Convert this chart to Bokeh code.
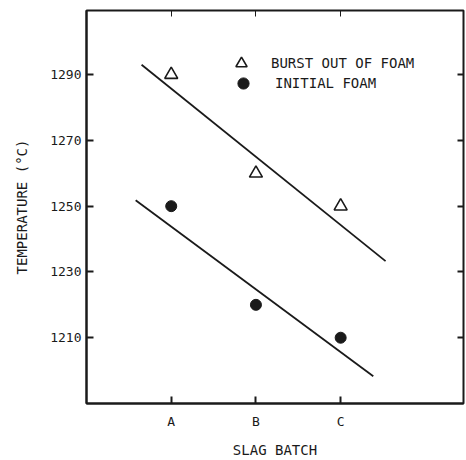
from bokeh.plotting import figure
from bokeh.models import (ColumnDataSource, Range1d, LinearAxis, FixedTicker,
                          Legend, LegendItem)
from bokeh.embed import file_html
from bokeh.resources import INLINE

# ---- data ----
batches = ["A", "B", "C"]
batch_pos = [1, 2, 3]
burst_temp = [1290, 1260, 1250]
initial_temp = [1250, 1220, 1210]
burst_line_x = [0.65, 3.53]
burst_line_y = [1293, 1233.3]
initial_line_x = [0.58, 3.385]
initial_line_y = [1251.8, 1198.3]
y_ticks = [1210, 1230, 1250, 1270, 1290]

FONT = "DejaVu Sans Mono"
INK = "#1a1a1a"

p = figure(width=466, height=460, output_backend="svg", toolbar_location=None,
           x_range=Range1d(0.0, 4.45), y_range=Range1d(1190, 1309.5),
           min_border_left=86, min_border_right=3, min_border_top=10,
           min_border_bottom=52)
p.grid.visible = False
p.outline_line_color = INK
p.outline_line_width = 2
p.background_fill_color = "white"
p.border_fill_color = "white"

# axes
p.xaxis.ticker = FixedTicker(ticks=batch_pos)
p.xaxis.major_label_overrides = {pos: lab for pos, lab in zip(batch_pos, batches)}
p.yaxis.ticker = FixedTicker(ticks=y_ticks)
for ax in (p.xaxis[0], p.yaxis[0]):
    ax.axis_line_color = INK
    ax.axis_line_width = 2
    ax.major_tick_line_color = INK
    ax.major_tick_line_width = 2
    ax.major_tick_in = 7
    ax.major_tick_out = 0
    ax.minor_tick_line_color = None
    ax.major_label_text_font = FONT
    ax.major_label_text_font_size = "13px"
    ax.major_label_text_color = INK
    ax.axis_label_text_font = FONT
    ax.axis_label_text_font_size = "14px"
    ax.axis_label_text_font_style = "normal"
    ax.axis_label_text_color = INK

p.xaxis.axis_label = "SLAG BATCH"
p.yaxis.axis_label = "TEMPERATURE (°C)"
p.xaxis.major_label_standoff = 10
p.xaxis.axis_label_standoff = 10
p.yaxis.major_label_standoff = 5
p.yaxis.axis_label_standoff = 17

# top / right tick-only axes (no labels)
top = LinearAxis(ticker=FixedTicker(ticks=batch_pos),
                 major_label_overrides={t: "" for t in batch_pos},
                 major_tick_in=6, major_tick_out=0, minor_tick_line_color=None,
                 axis_line_color=INK, major_tick_line_color=INK, major_tick_line_width=1)
right = LinearAxis(ticker=FixedTicker(ticks=y_ticks),
                   major_label_overrides={t: "" for t in y_ticks},
                   major_tick_in=6, major_tick_out=0, minor_tick_line_color=None,
                   axis_line_color=INK, major_tick_line_color=INK, major_tick_line_width=2)
p.add_layout(top, "above")
p.add_layout(right, "right")
p.min_border_top = 10
p.min_border_right = 3

# fit lines
p.line(burst_line_x, burst_line_y, line_color=INK, line_width=1.8)
p.line(initial_line_x, initial_line_y, line_color=INK, line_width=1.8)

src_b = ColumnDataSource(dict(x=batch_pos, y=burst_temp))
src_i = ColumnDataSource(dict(x=batch_pos, y=initial_temp))
r_b = p.scatter("x", "y", source=src_b, marker="triangle", size=13,
                fill_color="white", line_color=INK, line_width=1.6)
r_i = p.scatter("x", "y", source=src_i, marker="circle", size=11,
                fill_color=INK, line_color=INK)

common = dict(padding=0, margin=0, spacing=0, glyph_width=28, glyph_height=28,
              label_height=28, border_line_color=None, background_fill_alpha=0,
              label_text_font=FONT, label_text_font_size="14px",
              label_text_color=INK)
leg1 = Legend(items=[LegendItem(label="BURST OUT OF FOAM", renderers=[r_b])],
              location=(141, 326), label_standoff=16, **common)
leg2 = Legend(items=[LegendItem(label="INITIAL FOAM", renderers=[r_i])],
              location=(143, 306), label_standoff=18, **common)
p.add_layout(leg1, "center")
p.add_layout(leg2, "center")

open("out.html", "w").write(file_html(p, INLINE))
